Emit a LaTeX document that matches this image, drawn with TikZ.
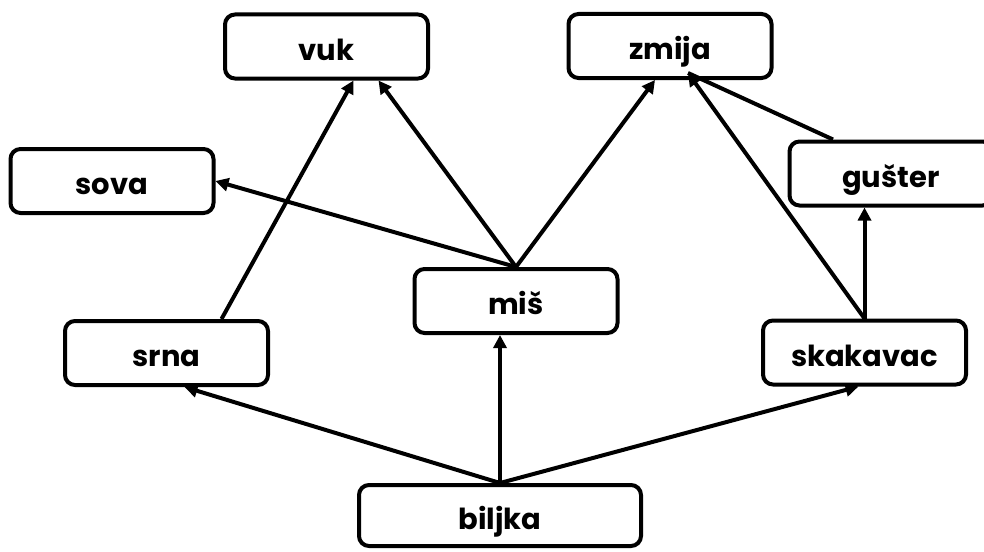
\documentclass[tikz,border=0pt]{standalone}
\usepackage{fontspec}
\setmainfont{Poppins}
\usetikzlibrary{positioning, calc, arrows.meta}

\begin{document}
\begin{tikzpicture}[x=1pt,y=-1pt,
    box/.style={draw, line width=4pt, rounded corners=10pt, fill=white,
      minimum width=203pt, minimum height=64pt, inner sep=0pt,
      text height=27pt, text depth=0pt,
      font=\fontsize{29}{32}\selectfont\bfseries},
    link/.style={line width=4pt},
    feeds/.style={link, -{Triangle[length=13pt,width=13pt]}}]
      \useasboundingbox (0,0) rectangle (984,551);
      % boxes
      \node[box] (vuk) at (326.5,46.5) {vuk};
      \node[box] (zmija) at (670,46) {zmija};
      \node[box] (sova) at (112,181) {sova};
      \node[box] (guster) at (891,173.5) {gušter};
      \node[box] (mis) at (516,301) {miš};
      \node[box] (srna) at (166.5,353) {srna};
      \node[box] (skakavac) at (864.5,352.5) {skakavac};
      \node[box, minimum width=282pt, minimum height=61pt] (biljka) at (500,515.5) {biljka};
      % arrows
      \draw[feeds] (biljka.north) -- ([xshift=18pt]srna.south);
      \draw[feeds] (biljka.north) -- (biljka.north |- mis.south);
      \draw[feeds] (biljka.north) -- ([xshift=-6pt]skakavac.south);
      \draw[feeds] ([xshift=55pt]srna.north) -- ([xshift=27pt]vuk.south);
      \draw[feeds] (mis.north) -- ([xshift=52pt]vuk.south);
      \draw[feeds] (mis.north) -- (sova.east);
      \draw[feeds] (mis.north) -- ([xshift=-15pt]zmija.south);
      \draw[feeds] (skakavac.north) -- ([xshift=18pt,yshift=7pt]zmija.south);
      \draw[feeds] (skakavac.north) -- (skakavac.north |- guster.south);
      \draw[link] ([xshift=-58pt]guster.north) -- ([xshift=18pt,yshift=7pt]zmija.south);
\end{tikzpicture}
\end{document}
